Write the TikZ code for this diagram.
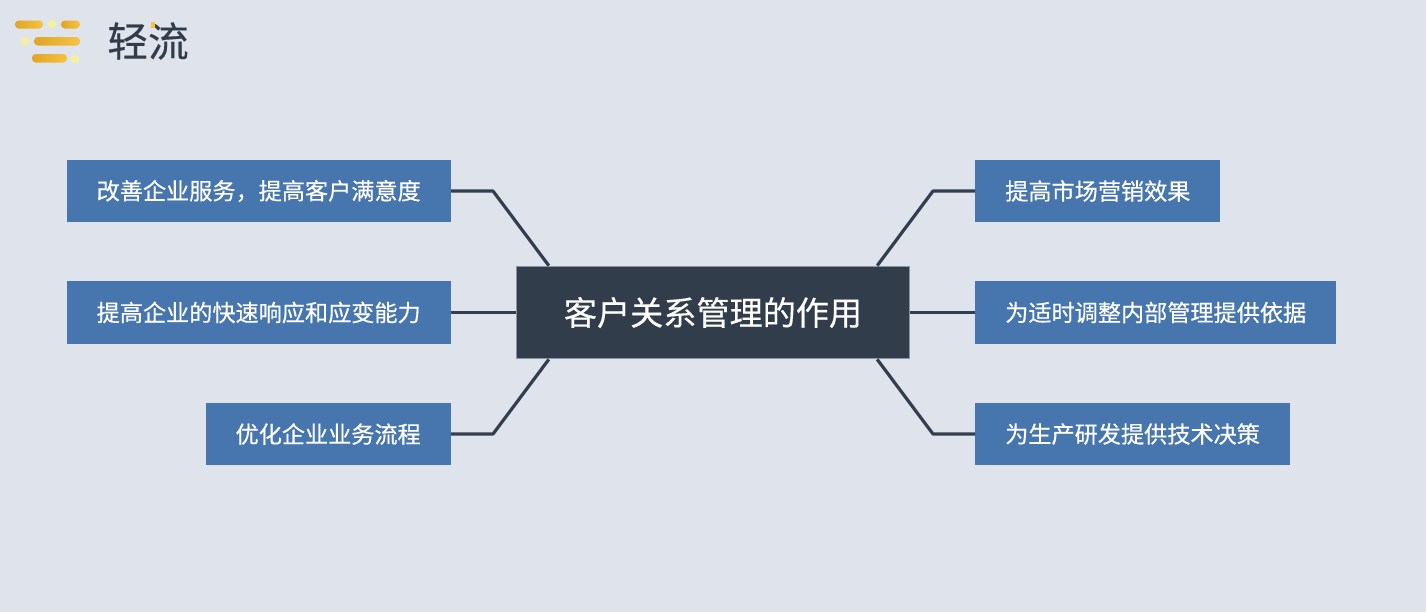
\documentclass[tikz,border=0pt]{standalone}
\usepackage{fontspec}
\usetikzlibrary{positioning}
\newfontfamily\cjk[FakeBold=0.4]{Noto Sans CJK SC}
\definecolor{bgcol}{HTML}{DFE3EC}
\definecolor{leafcol}{HTML}{4775AE}
\definecolor{rootcol}{HTML}{323D4C}
\definecolor{rootedge}{HTML}{8A94A3}
\definecolor{linkcol}{HTML}{333F4E}
\definecolor{barl}{HTML}{E0A526}
\definecolor{barr}{HTML}{F6C340}
\definecolor{dotcol}{HTML}{F5EFA6}
\tikzset{
	leaf/.style={fill=leafcol,text=white,font=\cjk\fontsize{17.36}{20}\selectfont,inner xsep=22.5pt,inner ysep=0pt,minimum height=47pt},
	root/.style={fill=rootcol,draw=rootedge,line width=0.75pt,text=white,font=\cjk\fontsize{24.85}{28}\selectfont,minimum width=295pt,minimum height=69.5pt,inner sep=0pt},
	link/.style={draw=linkcol,line width=2.4pt,line join=round},
	bar/.style={left color=barl,right color=barr,rounded corners=2.8pt},
	dot/.style={fill=dotcol,draw=none,circle,minimum size=6.75pt,inner sep=0pt},
	logo/.style={text=rootcol,font=\cjk\fontsize{30.5}{34}\selectfont,inner sep=0pt}
}
\begin{document}
\begin{tikzpicture}[x=0.75pt,y=-0.75pt]
	\useasboundingbox[fill=bgcol] (0,0) rectangle (1426,612);

	% logo
	\shade[bar] (15,20.5) rectangle (43,28.5);
	\shade[bar] (61,20.5) rectangle (80,28.5);
	\shade[bar] (34,37) rectangle (80,45.5);
	\shade[bar] (32,54) rectangle (67,62.5);
	\node[dot] (dota) at (52,24) {};
	\node[dot] (dotb) at (25,41) {};
	\node[dot] (dotc) at (75,59) {};
	\node[logo] (brand) at (148,41) {轻流};
	\fill[barr] (151,22) rectangle (155,28);

	% center
	\node[root] (main) at (713,312.5) {客户关系管理的作用};

	% left
	\node[leaf,anchor=east] (la) at (451,191) {改善企业服务，提高客户满意度};
	\node[leaf,anchor=east] (lb) at (451,312.5) {提高企业的快速响应和应变能力};
	\node[leaf,anchor=east] (lc) at (451,434) {优化企业业务流程};

	% right
	\node[leaf,anchor=west] (ra) at (975,191) {提高市场营销效果};
	\node[leaf,anchor=west] (rb) at (975,312.5) {为适时调整内部管理提供依据};
	\node[leaf,anchor=west] (rc) at (975,434) {为生产研发提供技术决策};

	\coordinate (bendla) at (493,191);
	\coordinate (bendlc) at (493,434);
	\coordinate (bendra) at (933,191);
	\coordinate (bendrc) at (933,434);

	\draw[link] (la.east) -- (bendla) -- ([xshift=24.75pt]main.north west);
	\draw[link] (lb.east) -- (main.west);
	\draw[link] (lc.east) -- (bendlc) -- ([xshift=24.75pt]main.south west);
	\draw[link] (ra.west) -- (bendra) -- ([xshift=-24.75pt]main.north east);
	\draw[link] (rb.west) -- (main.east);
	\draw[link] (rc.west) -- (bendrc) -- ([xshift=-24.75pt]main.south east);
\end{tikzpicture}
\end{document}
